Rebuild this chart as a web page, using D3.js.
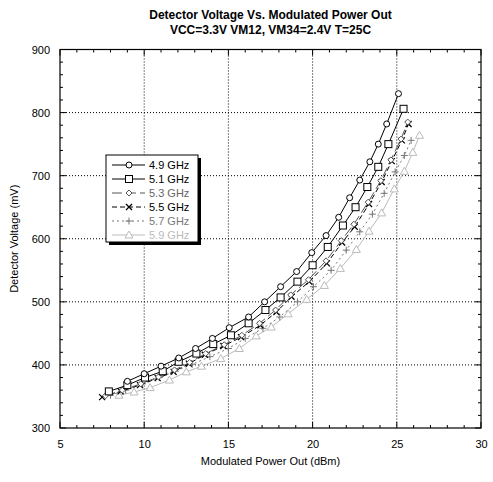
<!DOCTYPE html>
<html><head><meta charset="utf-8">
<script src="https://cdn.jsdelivr.net/npm/d3@7"></script>
<style>body{margin:0;background:#fff}text{font-family:"Liberation Sans",Arial,sans-serif}</style>
</head><body><svg id="c" width="493" height="482"></svg>
<script>
const titleLines = ["Detector Voltage Vs. Modulated Power Out", "VCC=3.3V VM12, VM34=2.4V T=25C"];
const xTicks = [5,10,15,20,25,30];
const yTicks = [300,400,500,600,700,800,900];
const seriesNames = ["4.9 GHz","5.1 GHz","5.3 GHz","5.5 GHz","5.7 GHz","5.9 GHz"];

const x49 = [9.0,10.0,11.0,12.05,13.05,14.05,15.05,16.2,17.15,18.1,19.05,19.95,20.8,21.55,22.2,22.8,23.4,23.9,24.4,25.1];
const y49 = [374,386,398,411,426,442,459,476,500,524,548,578,605,634,665,693,722,750,782,830];
const x51 = [7.9,9.0,10.05,11.1,12.05,13.1,14.1,15.15,16.2,17.2,18.1,19.1,20.0,20.9,21.8,22.55,23.25,23.9,24.5,25.4];
const y51 = [358,368,380,390,405,418,433,447,466,487,507,532,558,587,621,650,682,714,750,806];
const x53 = [7.7,8.7,9.8,10.85,11.8,12.7,13.65,14.75,15.8,16.85,17.8,18.7,19.75,20.8,21.7,22.45,23.3,24.05,24.65,25.25,25.65];
const y53 = [351,360,370,381,392,404,418,432,447,466,487,511,535,565,597,623,658,692,725,758,785];
const x55 = [7.5,8.6,9.75,10.8,11.75,12.65,13.6,14.7,15.75,16.9,17.85,18.75,19.8,20.85,21.75,22.5,23.35,24.1,24.7,25.3,25.7];
const y55 = [349,358,368,379,389,402,416,430,444,463,484,508,532,561,594,619,655,690,723,756,782];
const x57 = [8.0,8.9,9.9,10.9,11.85,12.85,13.9,15.0,16.0,17.05,18.05,19.1,20.05,21.1,22.0,22.8,23.55,24.25,24.9,25.45,25.85];
const y57 = [352,360,370,380,390,401,413,426,442,458,476,500,524,550,582,611,639,672,706,732,756];
const x59 = [8.5,9.4,10.35,11.5,12.5,13.4,14.55,15.65,16.65,17.55,18.55,19.65,20.7,21.65,22.6,23.35,24.1,24.85,25.45,25.95,26.35];
const y59 = [352,357,364,376,389,398,410,426,446,460,481,504,526,553,583,612,641,679,707,737,764];

const styles = [
  {color:"#000", dash:null, marker:"circle", text:"#000"},
  {color:"#000", dash:null, marker:"square", text:"#000"},
  {color:"#555", dash:"10,4", marker:"diamond", text:"#666"},
  {color:"#000", dash:"5,3", marker:"cross", text:"#000"},
  {color:"#777", dash:"2,3", marker:"plus", text:"#777"},
  {color:"#bbb", dash:null, marker:"triangle", text:"#bbb"}
];
const data = [[x49,y49],[x51,y51],[x53,y53],[x55,y55],[x57,y57],[x59,y59]];

const svg = d3.select("#c");
const L=60, R=481, T=49.5, B=428;
const x = d3.scaleLinear().domain([5,30]).range([L,R]);
const y = d3.scaleLinear().domain([300,900]).range([B,T]);

// title
svg.selectAll("text.title").data(titleLines).enter().append("text")
  .attr("x",(L+R)/2).attr("y",(d,i)=>19+i*15).attr("text-anchor","middle")
  .attr("font-size","12px").attr("font-weight","bold").text(d=>d);

// grid
const g = svg.append("g");
g.selectAll("line.gx").data(xTicks.slice(1,-1)).enter().append("line")
  .attr("x1",d=>x(d)).attr("x2",d=>x(d)).attr("y1",T).attr("y2",B)
  .attr("stroke","#000").attr("stroke-width",1).attr("stroke-dasharray","1,2");
g.selectAll("line.gy").data(yTicks.slice(1,-1)).enter().append("line")
  .attr("y1",d=>y(d)).attr("y2",d=>y(d)).attr("x1",L).attr("x2",R)
  .attr("stroke","#000").attr("stroke-width",1).attr("stroke-dasharray","1,2");

// axes
const xMinor = d3.range(5,31,1), yMinor = d3.range(300,901,20);
const ax = svg.append("g");
ax.append("g").attr("transform",`translate(0,${B})`)
  .call(d3.axisBottom(x).tickValues(xTicks).tickSize(0).tickPadding(12).tickFormat(d3.format("d")))
  .call(s=>s.select(".domain").remove());
ax.append("g").attr("transform",`translate(${L},0)`)
  .call(d3.axisLeft(y).tickValues(yTicks).tickSize(0).tickPadding(10).tickFormat(d3.format("d")))
  .call(s=>s.select(".domain").remove());
ax.selectAll(".tick text").attr("font-size","11px").attr("fill","#000")
  .style("font-family","'Liberation Sans',Arial,sans-serif");
// minor/major ticks inward on all sides
[["b",B,-1],["t",T,1]].forEach(([k,yy,dir])=>{
  ax.selectAll("line.tx"+k).data(xMinor).enter().append("line")
    .attr("x1",d=>x(d)).attr("x2",d=>x(d)).attr("y1",yy)
    .attr("y2",d=>yy+dir*(d%5===0?6:3)).attr("stroke","#000");
});
[["l",L,1],["r",R,-1]].forEach(([k,xx,dir])=>{
  ax.selectAll("line.ty"+k).data(yMinor).enter().append("line")
    .attr("y1",d=>y(d)).attr("y2",d=>y(d)).attr("x1",xx)
    .attr("x2",d=>xx+dir*(d%100===0?6:3)).attr("stroke","#000");
});
ax.append("rect").attr("x",L).attr("y",T).attr("width",R-L).attr("height",B-T)
  .attr("fill","none").attr("stroke","#000").attr("stroke-width",1.2);

svg.append("text").attr("x",(L+R)/2).attr("y",465).attr("text-anchor","middle")
  .attr("font-size","11px").text("Modulated Power Out (dBm)");
svg.append("text").attr("transform",`translate(18,${(T+B)/2}) rotate(-90)`).attr("text-anchor","middle")
  .attr("font-size","11px").text("Detector Voltage (mV)");

function drawMarker(sel, type, color){
  sel.each(function(){
    const m = d3.select(this);
    if(type==="circle") m.append("circle").attr("r",3).attr("fill","#fff").attr("stroke",color);
    else if(type==="square") m.append("rect").attr("x",-3.5).attr("y",-3.5).attr("width",7).attr("height",7).attr("fill","#fff").attr("stroke",color);
    else if(type==="diamond") m.append("path").attr("d","M0,-3L3,0L0,3L-3,0Z").attr("fill","#fff").attr("stroke",color);
    else if(type==="cross") m.append("path").attr("d","M-3,-3L3,3M-3,3L3,-3").attr("stroke",color).attr("stroke-width",1.3);
    else if(type==="plus") m.append("path").attr("d","M-3.5,0L3.5,0M0,-3.5L0,3.5").attr("stroke",color);
    else if(type==="triangle") m.append("path").attr("d","M0,-4L4,3L-4,3Z").attr("fill","#fff").attr("stroke",color);
  });
}

const line = d3.line().x(d=>x(d[0])).y(d=>y(d[1]));
const plot = svg.append("g");
for(let i=data.length-1;i>=0;i--){
  const pts = data[i][0].map((v,j)=>[v,data[i][1][j]]);
  const st = styles[i];
  plot.append("path").datum(pts).attr("d",line).attr("fill","none")
    .attr("stroke",st.color).attr("stroke-width",1).attr("stroke-dasharray",st.dash);
  const mk = plot.selectAll(null).data(pts).enter().append("g")
    .attr("transform",d=>`translate(${x(d[0])},${y(d[1])})`);
  drawMarker(mk, st.marker, st.color);
}

// legend
const lg = svg.append("g");
lg.append("rect").attr("x",109).attr("y",158).attr("width",92).attr("height",87).attr("fill","#000");
lg.append("rect").attr("x",106).attr("y",155).attr("width",92).attr("height",87).attr("fill","#fff").attr("stroke","#000");
seriesNames.forEach((n,i)=>{
  const st = styles[i], yy = 165+i*14;
  lg.append("line").attr("x1",112).attr("x2",145).attr("y1",yy).attr("y2",yy)
    .attr("stroke",st.color).attr("stroke-dasharray",st.dash);
  drawMarker(lg.append("g").attr("transform",`translate(129,${yy})`), st.marker, st.color);
  lg.append("text").attr("x",149).attr("y",yy+4).attr("font-size","11px").attr("fill",st.text).text(n);
});
</script></body></html>
